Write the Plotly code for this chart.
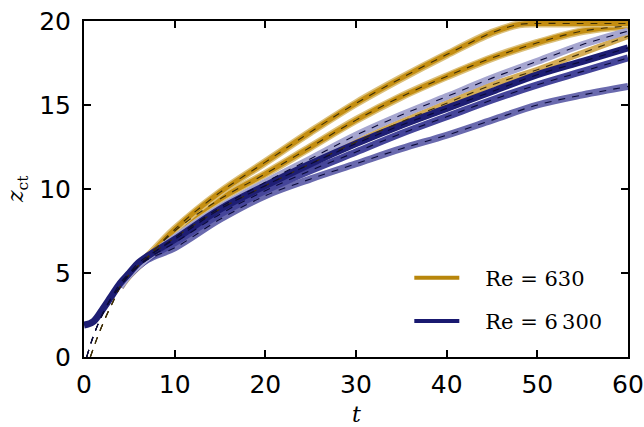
import plotly.graph_objects as go

# ---------------- data ----------------
# simulated front positions z_ct(t)
t_main = [4, 5, 7, 10, 15, 20, 25, 30, 35, 40, 45, 48, 50, 55, 60]
gold_top = [4.2, 4.9, 5.95, 7.6, 9.8, 11.6, 13.4, 15.1, 16.6, 18.0, 19.3, 19.8, 19.85, 19.85, 19.85]

t_std = [4, 5, 7, 10, 15, 20, 25, 30, 35, 40, 45, 50, 55, 60]
gold_mid = [4.2, 4.9, 5.95, 7.5, 9.4, 10.9, 12.5, 14.1, 15.5, 16.7, 17.8, 18.7, 19.4, 19.7]
gold_low = [4.2, 4.9, 5.9, 7.1, 8.8, 10.2, 11.5, 12.8, 14.0, 15.1, 16.2, 17.1, 18.1, 19.1]
navy_lav = [4.2, 4.9, 5.9, 7.1, 8.9, 10.4, 11.8, 13.2, 14.4, 15.5, 16.6, 17.6, 18.6, 19.4]
navy_mid = [4.2, 4.9, 5.85, 6.8, 8.5, 9.9, 11.1, 12.2, 13.3, 14.3, 15.3, 16.2, 17.0, 17.8]
navy_slate = [4.2, 4.9, 5.8, 6.5, 8.2, 9.6, 10.6, 11.5, 12.4, 13.2, 14.1, 15.0, 15.6, 16.1]

t_dark = [0, 1, 2, 3, 4, 5, 6, 7, 10, 15, 20, 25, 30, 35, 40, 45, 50, 55, 60]
navy_dark = [1.9, 2.1, 2.8, 3.6, 4.4, 5.0, 5.6, 6.0, 7.0, 8.8, 10.2, 11.5, 12.7, 13.8, 14.8, 15.8, 16.8, 17.6, 18.4]

# early part of the fitted curves (before they join the simulations)
fit_gold_t0 = [0.7, 1.5, 2.5, 3.3]
fit_gold_z0 = [0.0, 1.2, 2.5, 3.4]
fit_navy_t0 = [0.3, 1.0, 2.0, 3.0]
fit_navy_z0 = [0.0, 1.2, 2.5, 3.5]

legend_labels = ["Re = 630", "Re = 6\u2009300"]
x_ticks = [0, 10, 20, 30, 40, 50, 60]
y_ticks = [0, 5, 10, 15, 20]
x_title = "<i>t</i>"
y_title = "<i>z</i><sub>ct</sub>"

# ---------------- styles ----------------
GOLD = "#B8860B"
GOLD_LIGHT = "#DCC07A"
GOLD_DARK = "#C48E12"
GOLD_SOFT = "#D4AC55"
NAVY = "#191970"
NAVY_DARK = "#1E1E74"
NAVY_MID = "#45459A"
NAVY_SLATE = "#6A6AAE"
NAVY_LAV = "#A6A6D0"
FIT_GOLD = "#3E2E05"
FIT_NAVY = "#0A0A38"

fig = go.Figure()


def thick(x, y, color, width):
    fig.add_trace(go.Scatter(x=x, y=y, mode="lines", showlegend=False,
                             line=dict(color=color, width=width, shape="spline", smoothing=1.0),
                             hoverinfo="skip"))


def fit(x0, y0, x, y, color):
    fig.add_trace(go.Scatter(x=list(x0) + list(x), y=list(y0) + list(y), mode="lines",
                             showlegend=False,
                             line=dict(color=color, width=1.1, dash="7px,7px",
                                       shape="spline", smoothing=1.0),
                             hoverinfo="skip"))


# gold (Re = 630)
thick(t_std, gold_low, GOLD_SOFT, 6)
thick(t_std, gold_mid, GOLD_LIGHT, 8)
thick(t_std, gold_mid, GOLD_DARK, 5)
thick(t_main, gold_top, GOLD_LIGHT, 8)
thick(t_main, gold_top, GOLD_DARK, 5)
# navy (Re = 6300)
thick(t_std, navy_slate, NAVY_SLATE, 7)
thick(t_std, navy_mid, NAVY_MID, 7)
thick(t_std, navy_lav, NAVY_LAV, 7)
thick(t_dark, navy_dark, NAVY_DARK, 7)

# fitted curves (dashed)
fit(fit_gold_t0, fit_gold_z0, t_std, gold_low, FIT_GOLD)
fit(fit_gold_t0, fit_gold_z0, t_std, gold_mid, FIT_GOLD)
fit(fit_gold_t0, fit_gold_z0, t_main, gold_top, FIT_GOLD)
fit(fit_navy_t0, fit_navy_z0, t_std, navy_slate, FIT_NAVY)
fit(fit_navy_t0, fit_navy_z0, t_std, navy_mid, FIT_NAVY)
fit(fit_navy_t0, fit_navy_z0, t_std, navy_lav, FIT_NAVY)
fit(fit_navy_t0, fit_navy_z0, t_dark[4:], navy_dark[4:], FIT_NAVY)

# legend entries
for i, (label, color) in enumerate(zip(legend_labels, [GOLD, NAVY])):
    fig.add_trace(go.Scatter(x=[None], y=[None], mode="lines",
                             name="\u2002\u2002" + label, legendgroup=f"g{i}",
                             line=dict(color=color, width=4)))

axis_common = dict(showline=True, linecolor="black", linewidth=2, mirror="ticks",
                   ticks="inside", ticklen=7, tickwidth=1.5, tickcolor="black",
                   showgrid=False, zeroline=False, automargin=False,
                   ticklabeloverflow="allow",
                   tickfont=dict(family="DejaVu Sans", size=25, color="black"))

title_font = dict(family="DejaVu Serif", size=22, color="black")

fig.update_layout(
    width=644, height=427,
    margin=dict(l=84, r=16, t=21, b=70),
    paper_bgcolor="white", plot_bgcolor="white",
    xaxis=dict(range=[0, 60], tickvals=x_ticks, ticklabelstandoff=4, **axis_common),
    yaxis=dict(range=[0, 20], tickvals=y_ticks, ticklabelstandoff=6, **axis_common),
    legend=dict(x=0.598, y=0.296, xanchor="left", yanchor="top",
                bgcolor="rgba(0,0,0,0)", borderwidth=0,
                font=dict(family="DejaVu Serif", size=21, color="black"),
                itemwidth=45, tracegroupgap=13),
    annotations=[
        dict(text=x_title, xref="paper", yref="paper", x=0.5, y=0,
             xanchor="center", yanchor="middle", yshift=-57, showarrow=False,
             font=title_font),
        dict(text=y_title, xref="paper", yref="paper", x=0, y=0.5,
             xanchor="center", yanchor="middle", xshift=-67, showarrow=False,
             textangle=-90, font=title_font),
    ],
)

# remove the default 8px page margin so the figure fills the window exactly
fig.write_html("out.html", config={"displayModeBar": False},
               post_script="document.body.style.margin='0';document.body.style.overflow='hidden';")
